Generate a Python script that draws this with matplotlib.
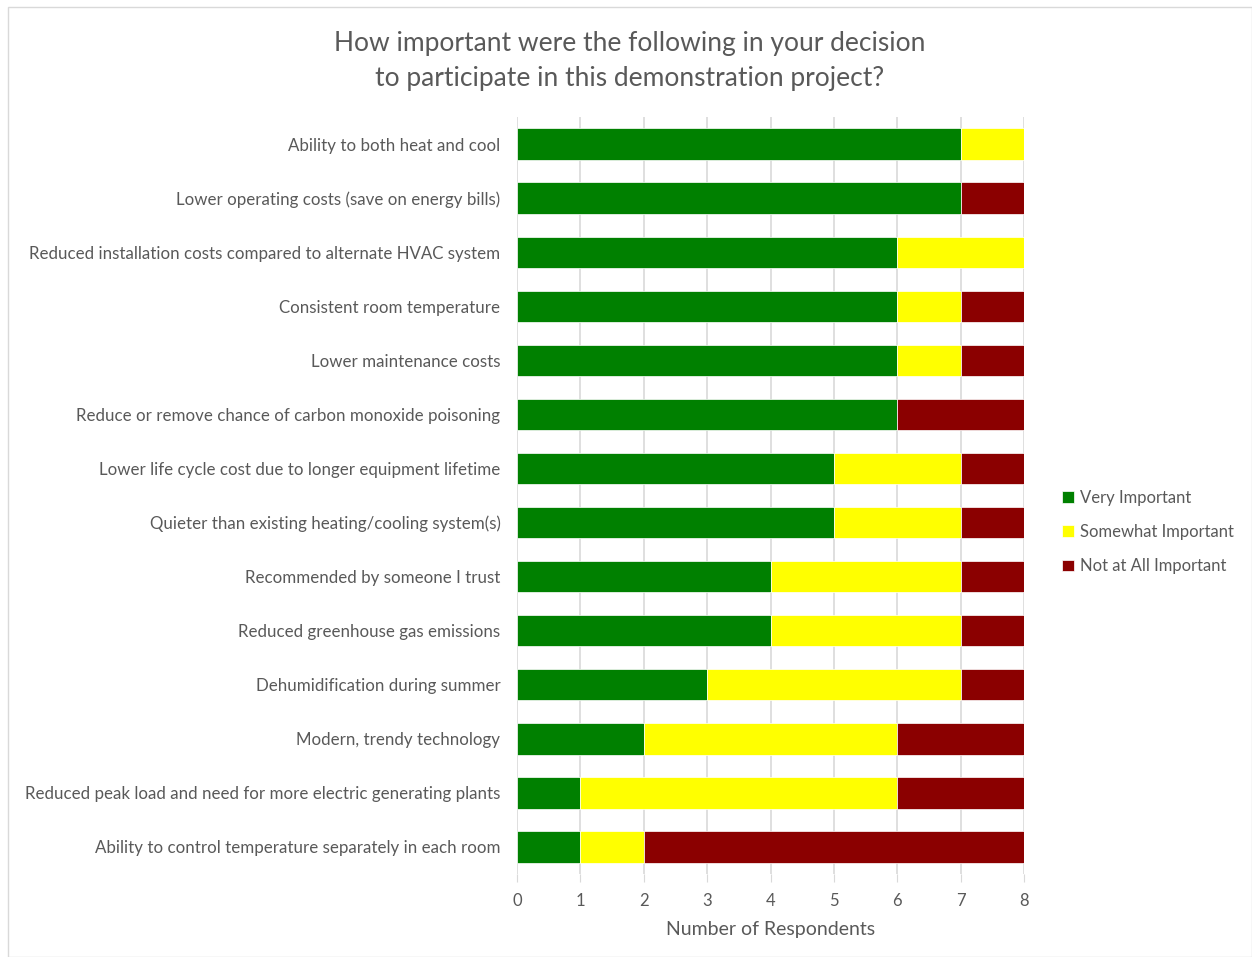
import matplotlib.pyplot as plt
import numpy as np

plt.rcParams['font.family'] = ['Lato', 'DejaVu Sans']

# Reasons, top to bottom as shown
reasons = [
    'Ability to both heat and cool',
    'Lower operating costs (save on energy bills)',
    'Reduced installation costs compared to alternate HVAC system',
    'Consistent room temperature',
    'Lower maintenance costs',
    'Reduce or remove chance of carbon monoxide poisoning',
    'Lower life cycle cost due to longer equipment lifetime',
    'Quieter than existing heating/cooling system(s)',
    'Recommended by someone I trust',
    'Reduced greenhouse gas emissions',
    'Dehumidification during summer',
    'Modern, trendy technology',
    'Reduced peak load and need for more electric generating plants',
    'Ability to control temperature separately in each room',
]
very = [7, 7, 6, 6, 6, 6, 5, 5, 4, 4, 3, 2, 1, 1]
somewhat = [1, 0, 2, 1, 1, 0, 2, 2, 3, 3, 4, 4, 5, 1]
not_at_all = [0, 1, 0, 1, 1, 2, 1, 1, 1, 1, 1, 2, 2, 6]

series = ['Very Important', 'Somewhat Important', 'Not at All Important']
colors = ['#008000', '#FFFF00', '#8B0000']
text_col = '#595959'

fig = plt.figure(figsize=(12.52, 9.57), dpi=100)
ax = fig.add_axes([0.413, 0.0867, 0.405, 0.791])

y = np.arange(len(reasons))
left = np.zeros(len(reasons))
for vals, name, c in zip([very, somewhat, not_at_all], series, colors):
    ax.barh(y, vals, left=left, height=0.58, color=c, label=name,
            edgecolor='white', linewidth=0.5, zorder=3)
    left += np.array(vals)

ax.set_ylim(len(reasons) - 0.5, -0.5)
ax.set_xlim(0, 8)
ax.set_xticks(range(9))
ax.set_yticks(y)
ax.set_yticklabels(reasons, fontsize=12.2, color=text_col)
ax.tick_params(axis='y', length=0, pad=12)
ax.tick_params(axis='x', length=6, color='#D9D9D9', labelsize=12,
               labelcolor=text_col, pad=8)
ax.grid(axis='x', color='#D9D9D9', linewidth=1.2, zorder=0)
for s in ax.spines.values():
    s.set_visible(False)

ax.set_xlabel('Number of Respondents', fontsize=14, color=text_col, labelpad=8)

fig.suptitle('How important were the following in your decision\nto participate in this demonstration project?',
             fontsize=19, color=text_col, y=0.968, x=0.503, linespacing=1.5)

ax.legend(loc='center left', bbox_to_anchor=(1.045, 0.452), frameon=False,
          fontsize=12, labelcolor=text_col, handlelength=0.7, handleheight=0.7,
          labelspacing=1.1, handletextpad=0.4)

fig.patches.append(plt.Rectangle((0.006, 0.0), 0.994, 0.993, transform=fig.transFigure,
                                 fill=False, edgecolor='#D9D9D9', linewidth=1))

fig.savefig('out.png', dpi=100)
